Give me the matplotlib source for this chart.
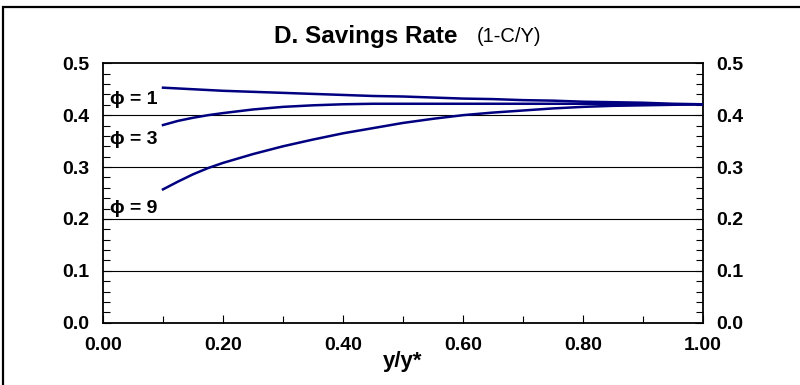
import numpy as np
import matplotlib.pyplot as plt
from matplotlib.patches import Rectangle
from matplotlib.ticker import MultipleLocator

plt.rcParams['font.family'] = ['Liberation Sans', 'DejaVu Sans']

# y/y* grid and savings rate (1-C/Y) for each phi
x = [0.100, 0.125, 0.150, 0.175, 0.20, 0.25, 0.30, 0.35, 0.40, 0.45, 0.50, 0.55,
     0.60, 0.65, 0.70, 0.75, 0.80, 0.85, 0.90, 0.95, 1.00]
phi1 = [0.453, 0.4515, 0.450, 0.4485, 0.447, 0.445, 0.443, 0.441, 0.439, 0.437,
        0.436, 0.434, 0.432, 0.431, 0.429, 0.428, 0.426, 0.425, 0.424, 0.422, 0.421]
phi3 = [0.381, 0.389, 0.395, 0.400, 0.404, 0.411, 0.416, 0.419, 0.421, 0.422,
        0.422, 0.422, 0.422, 0.422, 0.422, 0.422, 0.422, 0.421, 0.421, 0.421, 0.421]
phi9 = [0.257, 0.272, 0.286, 0.298, 0.308, 0.325, 0.340, 0.353, 0.365, 0.375,
        0.385, 0.393, 0.400, 0.405, 0.409, 0.413, 0.416, 0.418, 0.419, 0.420, 0.421]

labels = ["\u03d5 = 1", "\u03d5 = 3", "\u03d5 = 9"]
label_y = [0.431, 0.354, 0.221]

fig = plt.figure(figsize=(8, 3.85), dpi=100)
ax = fig.add_axes([0.1288, 0.1618, 0.7496, 0.6738])

# outer frame (right and bottom fall outside the picture)
fig.patches.append(Rectangle((3 / 800, -0.02), 1.0, 1 - 7 / 385 + 0.02,
                             transform=fig.transFigure, fill=False,
                             edgecolor="black", linewidth=1.6))

for y in [0.1, 0.2, 0.3, 0.4]:
    ax.axhline(y, color="black", linewidth=0.8, zorder=1)

for s in [phi1, phi3, phi9]:
    ax.plot(x, s, color="#000080", linewidth=1.8, zorder=3)

for lab, ly in zip(labels, label_y):
    ax.text(0.012, ly, lab, fontsize=14, fontweight="bold", va="center", ha="left")

ax.set_xlim(0, 1)
ax.set_ylim(0, 0.5)
ax.xaxis.set_major_locator(MultipleLocator(0.2))
ax.xaxis.set_minor_locator(MultipleLocator(0.1))
ax.yaxis.set_major_locator(MultipleLocator(0.1))
ax.yaxis.set_minor_locator(MultipleLocator(0.02))
ax.xaxis.set_major_formatter(plt.FormatStrFormatter("%.2f"))
ax.yaxis.set_major_formatter(plt.FormatStrFormatter("%.1f"))

ax.tick_params(axis="both", which="both", direction="in", width=0.8, labelsize=14)
ax.tick_params(axis="y", which="major", length=6, right=True, labelright=True, pad=10)
ax.tick_params(axis="y", which="minor", length=5, right=True)
ax.tick_params(axis="x", which="major", length=6, pad=10)
ax.tick_params(axis="x", which="minor", length=5)
for t in ax.xaxis.get_major_ticks() + ax.yaxis.get_major_ticks():
    t.label1.set_fontweight("bold")
    t.label2.set_fontweight("bold")

for sp in ax.spines.values():
    sp.set_linewidth(1.3)

ax.text(0.5, -0.17, "y/y*", transform=ax.transAxes, fontsize=16,
        fontweight="bold", ha="center", va="baseline")

fig.text(0.572, 0.906, "D. Savings Rate", fontsize=17.5, fontweight="bold",
         ha="right", va="center")
fig.text(0.596, 0.906, "(1-C/Y)", fontsize=14.5, ha="left", va="center")

plt.savefig("out.png", dpi=100)
